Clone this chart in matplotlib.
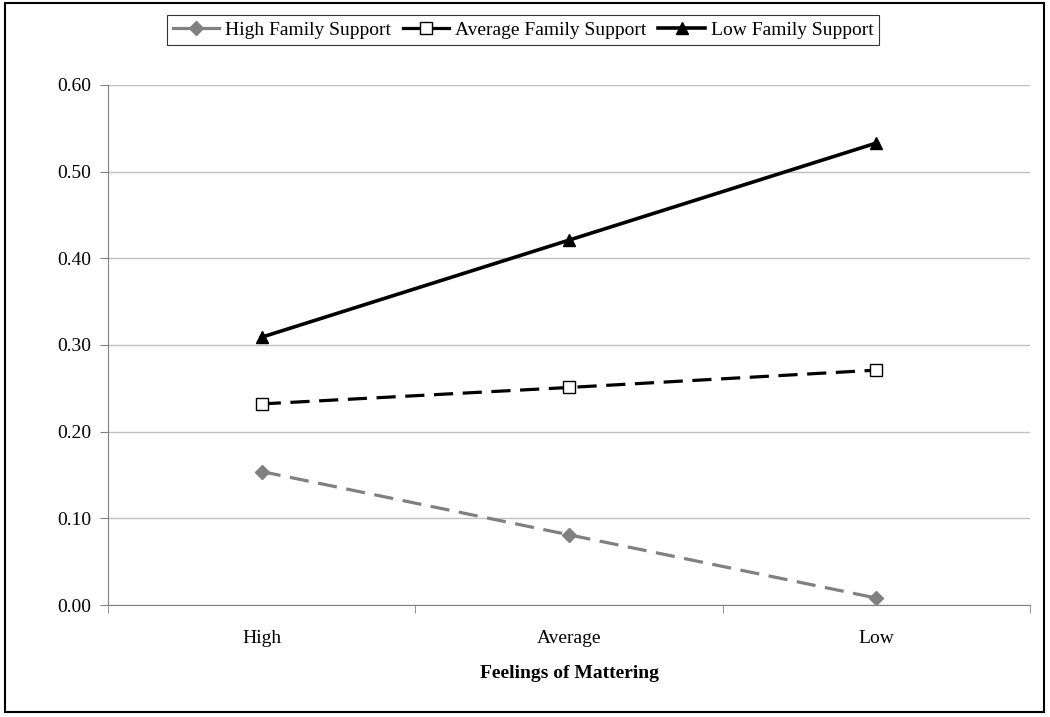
import matplotlib.pyplot as plt
from matplotlib.patches import Rectangle

# data
categories = ['High', 'Average', 'Low']
high_support = [0.154, 0.081, 0.008]
avg_support = [0.232, 0.251, 0.271]
low_support = [0.309, 0.421, 0.533]
y_ticks = [0.0, 0.1, 0.2, 0.3, 0.4, 0.5, 0.6]

plt.rcParams['font.family'] = ['Liberation Serif', 'DejaVu Serif']

fig = plt.figure(figsize=(10.5, 7.17), dpi=100)
ax = fig.add_axes([0.1029, 0.1562, 0.8781, 0.7253])

x = list(range(len(categories)))
ax.plot(x, high_support, color='#808080', linestyle=(0, (6, 3)), linewidth=2.3,
        marker='D', markersize=7, markerfacecolor='#808080', markeredgecolor='#808080',
        label='High Family Support')
ax.plot(x, avg_support, color='black', linestyle=(0, (6, 3)), linewidth=2.3,
        marker='s', markersize=8, markerfacecolor='white', markeredgecolor='black',
        markeredgewidth=1.0, label='Average Family Support')
ax.plot(x, low_support, color='black', linestyle='-', linewidth=2.6,
        marker='^', markersize=8, markerfacecolor='black', markeredgecolor='black',
        label='Low Family Support')

ax.set_xlim(-0.5, 2.5)
ax.set_ylim(0, 0.6)
ax.set_yticks(y_ticks)
ax.set_yticklabels([f'{v:.2f}' for v in y_ticks])
ax.yaxis.grid(True, color='#c0c0c0', linewidth=1)
ax.set_axisbelow(True)

# category labels centred, ticks on the boundaries
ax.set_xticks(x)
ax.set_xticklabels(categories)
ax.tick_params(axis='x', length=0, pad=18, labelsize=14)
ax.set_xticks([-0.5, 0.5, 1.5, 2.5], minor=True)
ax.tick_params(axis='x', which='minor', length=6, color='#808080', direction='out')
ax.tick_params(axis='y', length=6, color='#808080', direction='out', labelsize=14, pad=6)

for side in ['top', 'right']:
    ax.spines[side].set_visible(False)
for side in ['left', 'bottom']:
    ax.spines[side].set_color('#808080')

ax.set_xlabel('Feelings of Mattering', fontsize=14, fontweight='bold', labelpad=13)

# legend: solid handles like the Excel original
leg = fig.legend(loc='upper center', bbox_to_anchor=(0.4981, 0.992), ncol=3,
                 fontsize=14, frameon=True, fancybox=False, edgecolor='black',
                 handlelength=2.4, handletextpad=0.3, columnspacing=0.6,
                 borderpad=0.3)
leg.get_frame().set_linewidth(0.8)
for h in leg.get_lines():
    h.set_linestyle('-')

# outer chart border
fig.patches.append(Rectangle((0.005, 0.007), 0.989, 0.989, transform=fig.transFigure,
                             fill=False, edgecolor='black', linewidth=1.5))

plt.savefig('out.png', dpi=100)
